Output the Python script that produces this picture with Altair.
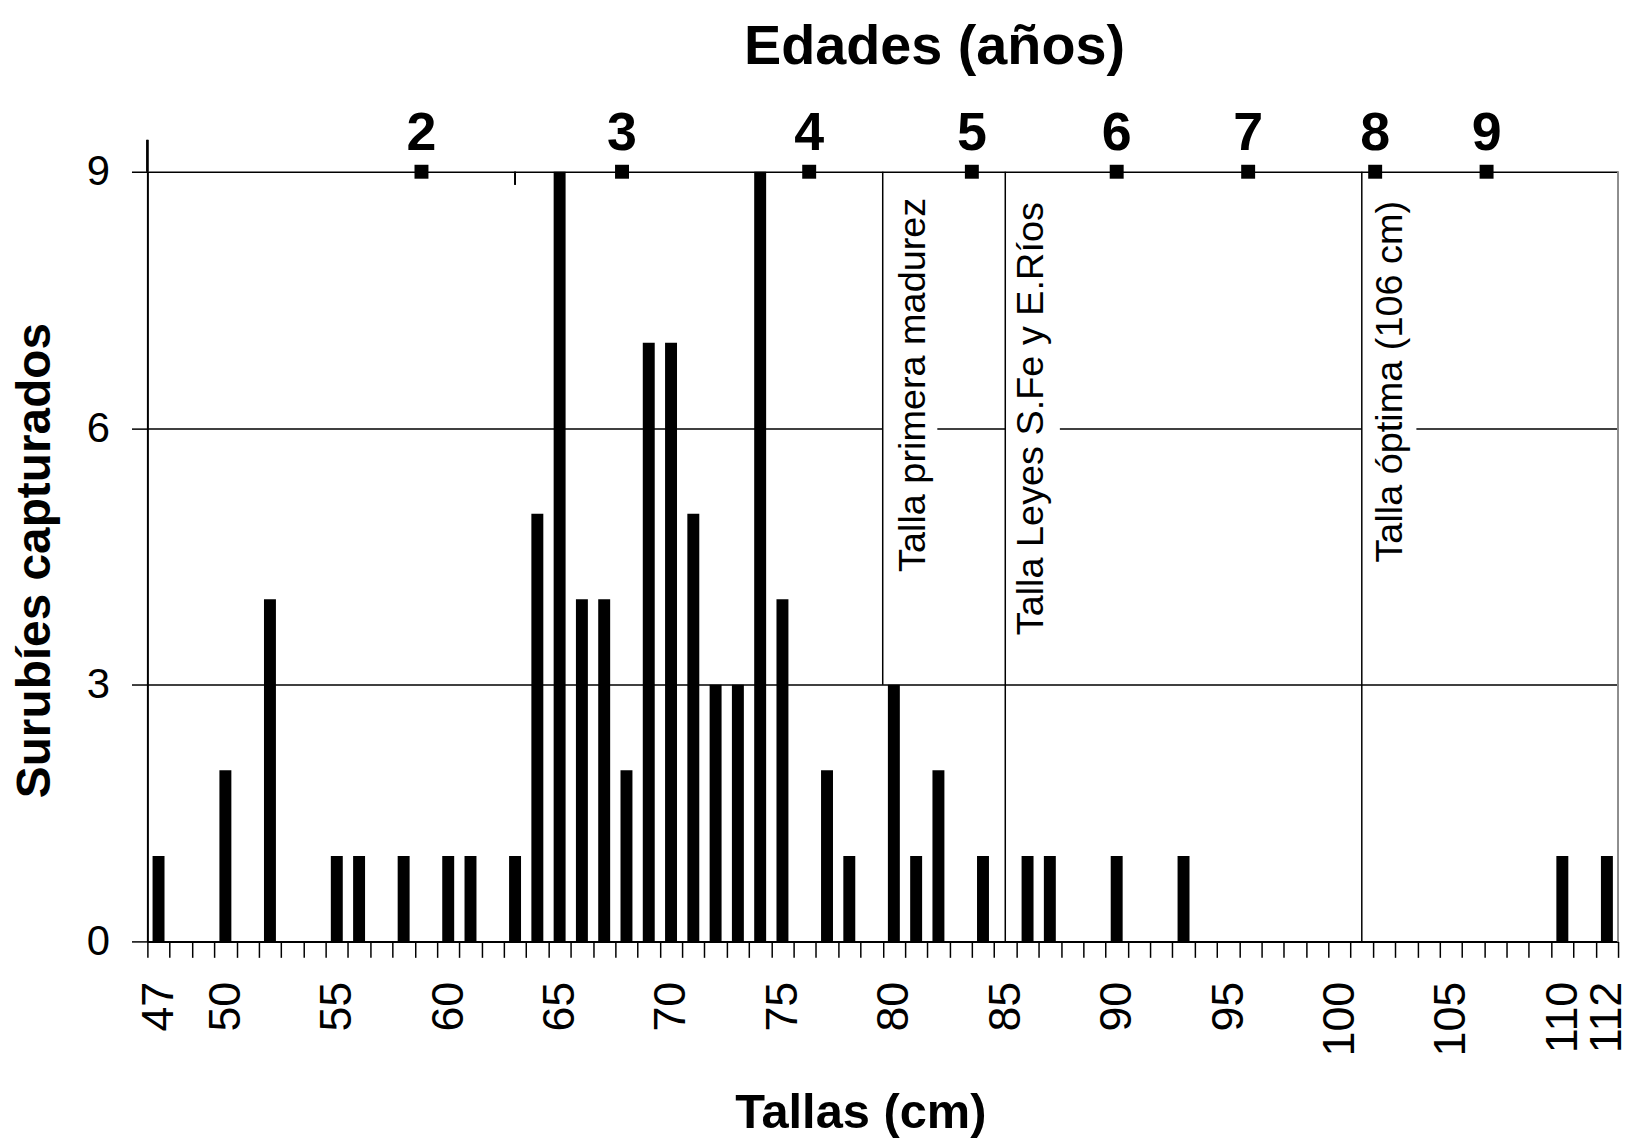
import altair as alt
import pandas as pd

FONT = "Liberation Sans"

# ---- data ----
tallas = [47, 50, 52, 55, 56, 58, 60, 61, 63, 64, 65, 66, 67, 68, 69, 70, 71, 72, 73,
          74, 75, 77, 78, 80, 81, 82, 84, 86, 87, 90, 93, 110, 112]
capturados = [1, 2, 4, 1, 1, 1, 1, 1, 1, 5, 9, 4, 4, 2, 7, 7, 5, 3, 3,
              9, 4, 2, 1, 3, 1, 2, 1, 1, 1, 1, 1, 1, 1]

tick_labels = [47, 50, 55, 60, 65, 70, 75, 80, 85, 90, 95, 100, 105, 110, 112]
tick_bounds = [v + 0.5 for v in range(46, 113)]
y_ticks = [0, 3, 6, 9]

edades = ["2", "3", "4", "5", "6", "7", "8", "9"]
edad_tallas = [58.8, 67.8, 76.2, 83.5, 90.0, 95.9, 101.6, 106.6]

ref_textos = ["Talla primera madurez", "Talla Leyes S.Fe y E.Ríos", "Talla óptima (106 cm)"]
ref_tallas = [79.5, 85, 101]
ref_desde = [3, 0, 0]
ref_hasta = [9, 9, 9]
texto_x = [80.9, 86.2, 102.3]
texto_y = [4.32, 3.58, 4.43]
caja_x2 = [81.95, 87.45, 103.45]
caja_y = [4.0, 3.2, 4.1]
caja_y2 = [8.85, 8.85, 8.85]

# ---- tables ----
bars_df = pd.DataFrame({"talla": tallas, "n": capturados})
edad_df = pd.DataFrame({"edad": edades, "talla": edad_tallas})
ref_df = pd.DataFrame({"texto": ref_textos, "talla": ref_tallas, "desde": ref_desde,
                       "hasta": ref_hasta, "tx": texto_x, "ty": texto_y,
                       "cx2": caja_x2, "cy": caja_y, "cy2": caja_y2})

x_scale = alt.Scale(domain=[46.5, 112.5], nice=False, zero=False, padding=0)
y_scale = alt.Scale(domain=[0, 9], nice=False, zero=True, padding=0)

axis_values = sorted(tick_bounds + tick_labels)

x_axis = alt.Axis(
    orient="bottom",
    values=axis_values,
    labelExpr="datum.value % 1 == 0 ? format(datum.value, 'd') : ''",
    tickOpacity={"condition": {"test": "datum.value % 1 == 0", "value": 0}, "value": 1},
    grid=False,
    labelOverlap=False,
    labelFlush=False,
    labelAngle=270,
    labelAlign="right",
    labelBaseline="middle",
    labelFont=FONT,
    labelFontSize=45,
    labelColor="black",
    labelPadding=24,
    tickSize=16,
    tickColor="black",
    tickWidth=1.5,
    domainColor="black",
    domainWidth=2,
    title="Tallas (cm)",
    titleFont=FONT,
    titleFontSize=49,
    titleFontWeight="bold",
    titleColor="black",
    titleX=716,
    titleY=187,
    titleAlign="center",
    titleBaseline="alphabetic",
)

y_axis = alt.Axis(
    orient="left",
    values=y_ticks,
    grid=True,
    gridColor="black",
    gridWidth=1.5,
    gridOpacity=1,
    domainColor="black",
    domainWidth=2,
    tickColor="black",
    tickSize=16,
    tickWidth=1.5,
    labelFont=FONT,
    labelFontSize=42,
    labelColor="black",
    labelPadding=22,
    title="Surubíes capturados",
    titleFont=FONT,
    titleFontSize=48,
    titleFontWeight="bold",
    titleColor="black",
    titleAngle=270,
    titleX=-112,
    titleY=390,
    titleAlign="center",
    titleBaseline="middle",
)

top_axis = alt.Axis(
    orient="top",
    labels=False,
    ticks=False,
    domain=False,
    grid=False,
    title="Edades (años)",
    titleFont=FONT,
    titleFontSize=56,
    titleFontWeight="bold",
    titleColor="black",
    titleX=790,
    titleY=-109,
    titleAlign="center",
    titleBaseline="alphabetic",
    titleAngle=0,
)

bars = alt.Chart(bars_df).mark_bar(color="black", size=12).encode(
    x=alt.X("talla:Q", scale=x_scale, axis=x_axis),
    y=alt.Y("n:Q", scale=y_scale, axis=y_axis),
)

cajas = alt.Chart(ref_df).mark_rect(color="white", opacity=1).encode(
    x=alt.X("talla:Q", scale=x_scale, axis=None),
    x2="cx2:Q",
    y=alt.Y("cy:Q", scale=y_scale, axis=None),
    y2="cy2:Q",
)

lineas = alt.Chart(ref_df).mark_rule(color="black", strokeWidth=1.5).encode(
    x=alt.X("talla:Q", scale=x_scale, axis=None),
    y=alt.Y("desde:Q", scale=y_scale, axis=None),
    y2="hasta:Q",
)

textos = alt.Chart(ref_df).mark_text(
    angle=270, align="left", baseline="middle", font=FONT, fontSize=38, color="black"
).encode(
    x=alt.X("tx:Q", scale=x_scale, axis=None),
    y=alt.Y("ty:Q", scale=y_scale, axis=None),
    text="texto:N",
)

borde = alt.Chart(ref_df).mark_rule(color="#8c8c8c", strokeWidth=1.5).encode(
    x=alt.XDatum(112.5, scale=x_scale, axis=None),
    y=alt.YDatum(0, scale=y_scale, axis=None),
    y2=alt.Y2Datum(9),
)

eje_sup = alt.Chart(ref_df).mark_rule(color="black", strokeWidth=2).encode(
    x=alt.XDatum(46.5, scale=x_scale, axis=None),
    y=alt.YDatum(9, scale=y_scale, axis=None),
    y2=alt.value(-32),
)

marca = alt.Chart(ref_df).mark_rule(color="black", strokeWidth=1.5).encode(
    x=alt.XDatum(63, scale=x_scale, axis=None),
    y=alt.YDatum(9, scale=y_scale, axis=None),
    y2=alt.value(13),
)

cuadros = alt.Chart(edad_df).mark_square(color="black", size=196, opacity=1).encode(
    x=alt.X("talla:Q", scale=x_scale, axis=top_axis),
    y=alt.YDatum(9, scale=y_scale, axis=None),
)

edad_txt = alt.Chart(edad_df).mark_text(
    font=FONT, fontSize=54, fontWeight="bold", color="black",
    baseline="alphabetic", align="center", dy=-22
).encode(
    x=alt.X("talla:Q", scale=x_scale, axis=None),
    y=alt.YDatum(9, scale=y_scale, axis=None),
    text="edad:N",
)

chart = alt.layer(
    bars, cajas, lineas, borde, eje_sup, marca, textos, cuadros, edad_txt
).resolve_axis(
    x="independent", y="independent"
).properties(
    width=1477,
    height=773,
    autosize=alt.AutoSizeParams(type="none"),
    padding={"left": 140, "top": 162, "right": 11, "bottom": 195},
    background="white",
).configure_view(
    stroke=None
)

chart.save("out.html", embed_options={"renderer": "svg", "actions": False})
